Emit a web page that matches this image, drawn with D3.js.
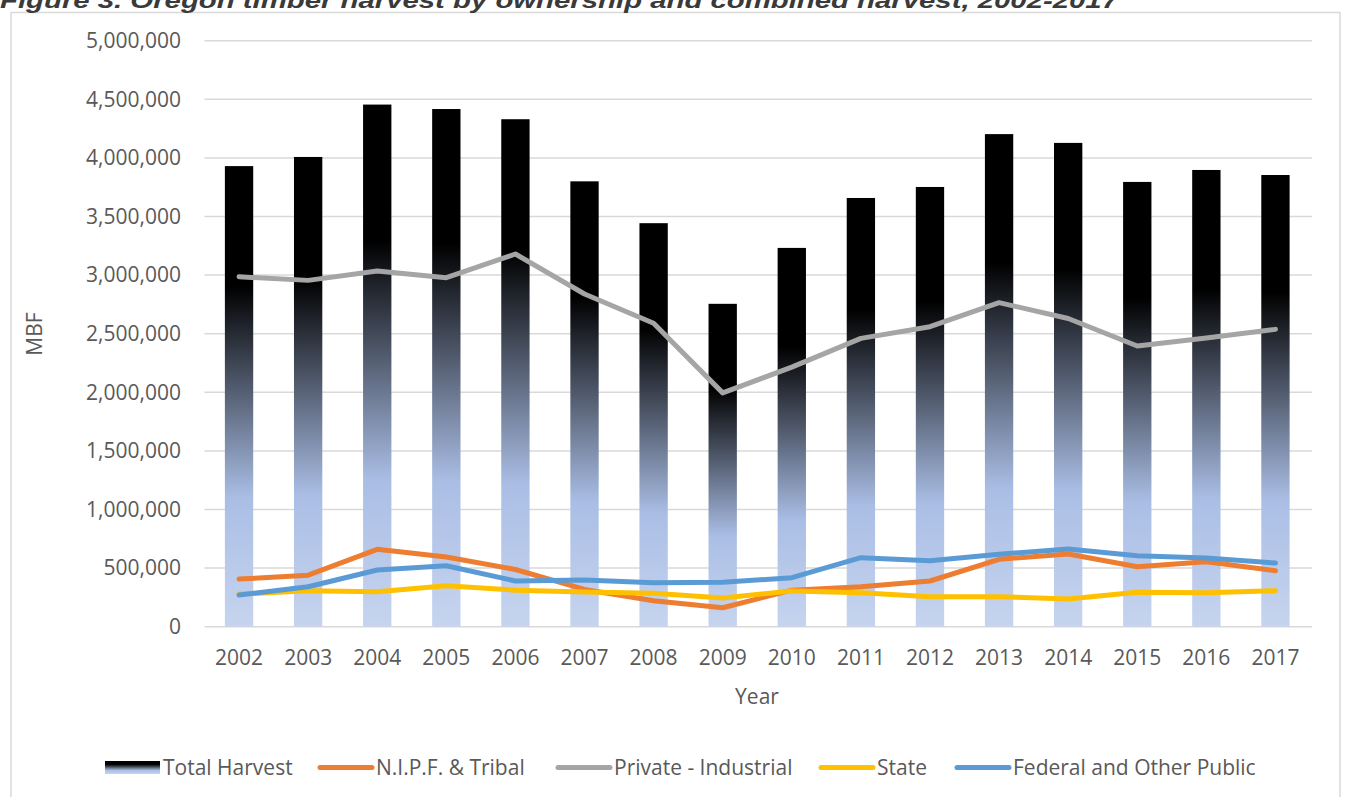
<!DOCTYPE html>
<html lang="en">
  <head>
    <meta charset="utf-8">
    <title>Oregon timber harvest</title>
    <script src="https://d3js.org/d3.v7.min.js"></script>
    <style>
      body { margin: 0; background: #fff; }
      text { font-family: "Open Sans", sans-serif; fill: #595959; }
    </style>
  </head>

  <body>

  <script>

// Data (MBF)

  var years = ["2002", "2003", "2004", "2005", "2006", "2007", "2008", "2009",
               "2010", "2011", "2012", "2013", "2014", "2015", "2016", "2017"];

  var totalHarvest = [3930000, 4008000, 4455000, 4417000, 4330000, 3800000, 3443000, 2755000,
                      3232000, 3658000, 3752000, 4203000, 4128000, 3795000, 3897000, 3854000];

  var nipfTribal = [406000, 440000, 660000, 595000, 488000, 318000, 222000, 162000,
                    312000, 341000, 390000, 575000, 620000, 512000, 555000, 478000];

  var privateIndustrial = [2986000, 2955000, 3035000, 2978000, 3180000, 2839000, 2589000, 1995000,
                           2215000, 2460000, 2560000, 2765000, 2630000, 2395000, 2463000, 2537000];

  var stateHarvest = [278000, 306000, 298000, 350000, 312000, 296000, 285000, 245000,
                      305000, 290000, 256000, 256000, 236000, 293000, 290000, 307000];

  var federalPublic = [270000, 341000, 484000, 520000, 390000, 398000, 375000, 379000,
                       418000, 589000, 563000, 618000, 663000, 606000, 586000, 543000];

  var yTicks = [0, 500000, 1000000, 1500000, 2000000, 2500000, 3000000, 3500000, 4000000, 4500000, 5000000];

  var lineSeries = [
    {name: "N.I.P.F. & Tribal", values: nipfTribal, color: "#ED7D31"},
    {name: "Private - Industrial", values: privateIndustrial, color: "#A5A5A5"},
    {name: "State", values: stateHarvest, color: "#FFC000"},
    {name: "Federal and Other Public", values: federalPublic, color: "#5B9BD5"}
  ];

// Layout

  var w = 1348;
  var h = 797;
  var margin = {top: 40.7, right: 38, bottom: 170.3, left: 204.5};
  var innerWidth = w - margin.left - margin.right;
  var innerHeight = h - margin.top - margin.bottom;

  var svg = d3.select("body")
    .append("svg")
      .attr("width", w)
      .attr("height", h);

  var defs = svg.append("defs");
  var grad = defs.append("linearGradient")
      .attr("id", "barGrad")
      .attr("x1", 0).attr("y1", 0)
      .attr("x2", 0).attr("y2", 1);
  grad.append("stop").attr("offset", 0).attr("stop-color", "#000000");
  grad.append("stop").attr("offset", 0.26).attr("stop-color", "#000000");
  grad.append("stop").attr("offset", 0.72).attr("stop-color", "#aabee5");
  grad.append("stop").attr("offset", 1).attr("stop-color", "#c6d4ee");

  // chart frame (bottom edge runs past the page, as in the source)
  svg.append("path")
      .attr("d", "M11,797V12.5H1340V797")
      .attr("fill", "#fff")
      .attr("stroke", "#d9d9d9")
      .attr("stroke-width", 1.5);

  // title, cut by the top edge as in the source
  svg.append("text")
      .attr("x", 0)
      .attr("y", 8)
      .attr("textLength", 1118)
      .attr("lengthAdjust", "spacingAndGlyphs")
      .style("font-family", "'Liberation Sans', sans-serif")
      .style("font-weight", "bold")
      .style("font-style", "italic")
      .style("font-size", "22px")
      .style("fill", "#3a3a3a")
      .text("Figure 3. Oregon timber harvest by ownership and combined harvest, 2002-2017");

  var xScale = d3.scaleBand()
      .domain(years)
      .range([0, innerWidth])
      .paddingInner(0.59)
      .paddingOuter(0.295);

  var yScale = d3.scaleLinear()
      .domain([0, 5000000])
      .range([innerHeight, 0]);

  var g = svg.append("g")
      .attr("transform", `translate(${margin.left}, ${margin.top})`);

  // gridlines
  g.append("g")
    .selectAll("line")
    .data(yTicks)
    .enter().append("line")
      .attr("x1", 0)
      .attr("x2", innerWidth + 2)
      .attr("y1", d => yScale(d))
      .attr("y2", d => yScale(d))
      .attr("stroke", "#d9d9d9")
      .attr("stroke-width", 1.5);

  // y axis labels
  var yAxis = d3.axisLeft(yScale)
      .tickValues(yTicks)
      .tickFormat(d3.format(","))
      .tickSize(0)
      .tickPadding(23.5);

  g.append("g")
      .call(yAxis)
      .call(s => s.select(".domain").remove())
      .selectAll("text")
      .style("font-size", "21px")
      .style("fill", "#595959")
      .style("font-family", "'Open Sans', sans-serif");

  // x axis labels
  var xAxis = d3.axisBottom(xScale)
      .tickSize(0)
      .tickPadding(23);

  g.append("g")
      .attr("transform", `translate(0, ${innerHeight})`)
      .call(xAxis)
      .call(s => s.select(".domain").remove())
      .selectAll("text")
      .style("font-size", "21px")
      .style("fill", "#595959")
      .style("font-family", "'Open Sans', sans-serif");

  // bars
  g.append("g")
    .selectAll("rect")
    .data(totalHarvest)
    .enter().append("rect")
      .attr("x", (d, i) => xScale(years[i]))
      .attr("y", d => yScale(d))
      .attr("width", xScale.bandwidth())
      .attr("height", d => innerHeight - yScale(d))
      .attr("fill", "url(#barGrad)");

  // lines
  var line = d3.line()
      .x((d, i) => xScale(years[i]) + xScale.bandwidth() / 2)
      .y(d => yScale(d));

  g.append("g")
    .selectAll("path")
    .data(lineSeries)
    .enter().append("path")
      .attr("d", d => line(d.values))
      .attr("fill", "none")
      .attr("stroke", d => d.color)
      .attr("stroke-width", 5)
      .attr("stroke-linecap", "round")
      .attr("stroke-linejoin", "round");

  // axis titles
  svg.append("text")
      .attr("transform", "translate(42, 334) rotate(-90)")
      .attr("text-anchor", "middle")
      .style("font-size", "21px")
      .text("MBF");

  svg.append("text")
      .attr("x", 757)
      .attr("y", 704)
      .attr("text-anchor", "middle")
      .style("font-size", "21px")
      .text("Year");

  // legend
  var legend = svg.append("g");

  legend.append("rect")
      .attr("x", 105)
      .attr("y", 761)
      .attr("width", 55)
      .attr("height", 13)
      .attr("fill", "url(#barGrad)");
  legend.append("text")
      .attr("x", 163)
      .attr("y", 775)
      .style("font-size", "21px")
      .text("Total Harvest");

  var legendX = [318, 556, 819, 955];
  lineSeries.forEach(function (s, i) {
    legend.append("line")
        .attr("x1", legendX[i] + 2)
        .attr("x2", legendX[i] + 54)
        .attr("y1", 767.5)
        .attr("y2", 767.5)
        .attr("stroke", s.color)
        .attr("stroke-width", 5)
        .attr("stroke-linecap", "round");
    legend.append("text")
        .attr("x", legendX[i] + 58)
        .attr("y", 775)
        .style("font-size", "21px")
        .text(s.name);
  });

    </script>

  </body>

</html>
